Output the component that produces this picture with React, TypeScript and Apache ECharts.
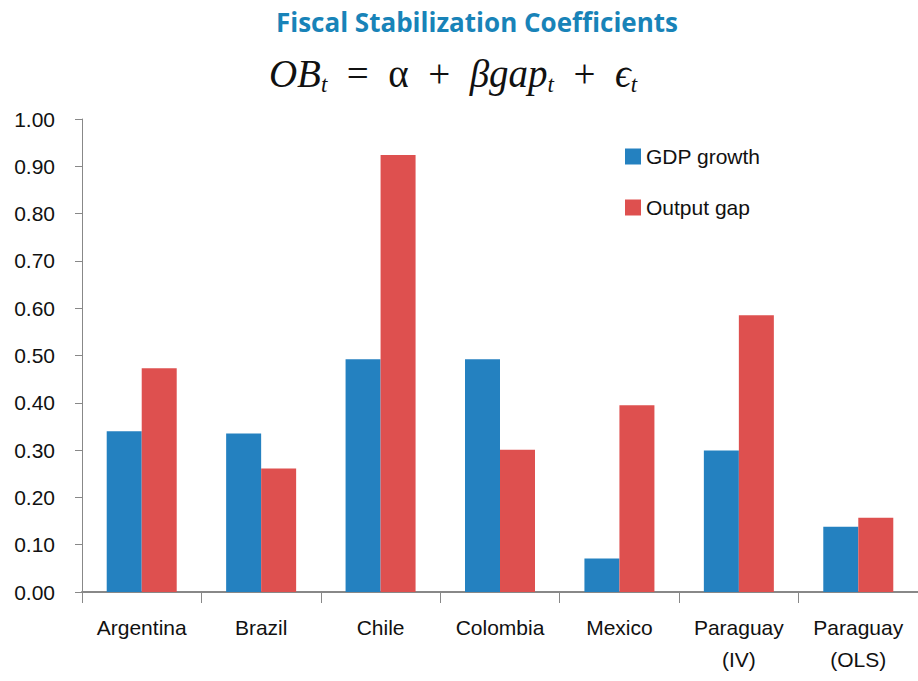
import React, { useEffect, useRef } from "react";
import * as echarts from "echarts";

const categories = ["Argentina", "Brazil", "Chile", "Colombia", "Mexico", "Paraguay\n(IV)", "Paraguay\n(OLS)"];
const gdpGrowth = [0.34, 0.335, 0.492, 0.492, 0.071, 0.299, 0.138];
const outputGap = [0.473, 0.261, 0.924, 0.301, 0.395, 0.585, 0.157];
const seriesNames = ["GDP growth", "Output gap"];
const titleText = "Fiscal Stabilization Coefficients";

export default function App() {
  const ref = useRef<HTMLDivElement>(null);
  useEffect(() => {
    if (!ref.current) return;
    const chart = echarts.init(ref.current, null, { renderer: "svg" });
    const serif = "'Liberation Serif', 'DejaVu Serif', serif";
    const sans = "'Liberation Sans Narrow', 'Liberation Sans', Arial, sans-serif";
    chart.setOption({
      animation: false,
      backgroundColor: "#ffffff",
      grid: { left: 82, right: 0, top: 119, bottom: 89, containLabel: false },
      legend: {
        data: seriesNames,
        orient: "vertical",
        left: 625,
        top: 146,
        padding: 0,
        itemWidth: 16,
        itemHeight: 16,
        itemGap: 30,
        icon: "rect",
        textStyle: { fontSize: 21, color: "#111", fontFamily: sans },
      },
      xAxis: {
        type: "category",
        data: categories,
        axisLine: { lineStyle: { color: "#888", width: 2 } },
        axisTick: { show: true, length: 11, lineStyle: { color: "#888" } },
        axisLabel: {
          fontSize: 21,
          color: "#111",
          margin: 19,
          lineHeight: 32,
          fontFamily: sans,
          interval: 0,
        },
      },
      yAxis: {
        type: "value",
        min: 0,
        max: 1,
        interval: 0.1,
        axisLine: { show: true, lineStyle: { color: "#888", width: 1 } },
        axisTick: { show: true, length: 7, lineStyle: { color: "#888" } },
        splitLine: { show: false },
        axisLabel: {
          fontSize: 21,
          color: "#111",
          margin: 27,
          fontFamily: "'Liberation Sans', Arial, sans-serif",
          formatter: (v: number) => v.toFixed(2),
        },
      },
      series: [
        { name: seriesNames[0], type: "bar", data: gdpGrowth, barWidth: 35, barGap: "0%", itemStyle: { color: "#2481C0" } },
        { name: seriesNames[1], type: "bar", data: outputGap, barWidth: 35, barGap: "0%", itemStyle: { color: "#DE504F" } },
      ],
      graphic: [
        {
          type: "text",
          x: 477,
          y: 22,
          style: {
            text: titleText,
            align: "center",
            verticalAlign: "middle",
            fontSize: 26,
            fontWeight: "bold",
            fill: "#1883B8",
            fontFamily: "'Open Sans', 'Liberation Sans', sans-serif",
          },
        },
        {
          type: "text",
          x: 453,
          y: 73,
          style: {
            text: "{i|OB}{s|t}{r|  =  α  +  }{i|βgap}{s|t}{r|  +  }{i|ϵ}{s|t}",
            align: "center",
            verticalAlign: "middle",
            fill: "#111",
            rich: {
              i: { fontSize: 39, fontStyle: "italic", fontFamily: serif, lineHeight: 46, fill: "#111" },
              r: { fontSize: 39, fontFamily: serif, lineHeight: 46, fill: "#111" },
              s: { fontSize: 23, fontStyle: "italic", fontFamily: serif, lineHeight: 23, verticalAlign: "bottom", fill: "#111" },
            },
          },
        },
      ],
    });
    return () => chart.dispose();
  }, []);
  return <div ref={ref} style={{ position: "fixed", left: 0, top: 0, width: 918, height: 681 }} />;
}
